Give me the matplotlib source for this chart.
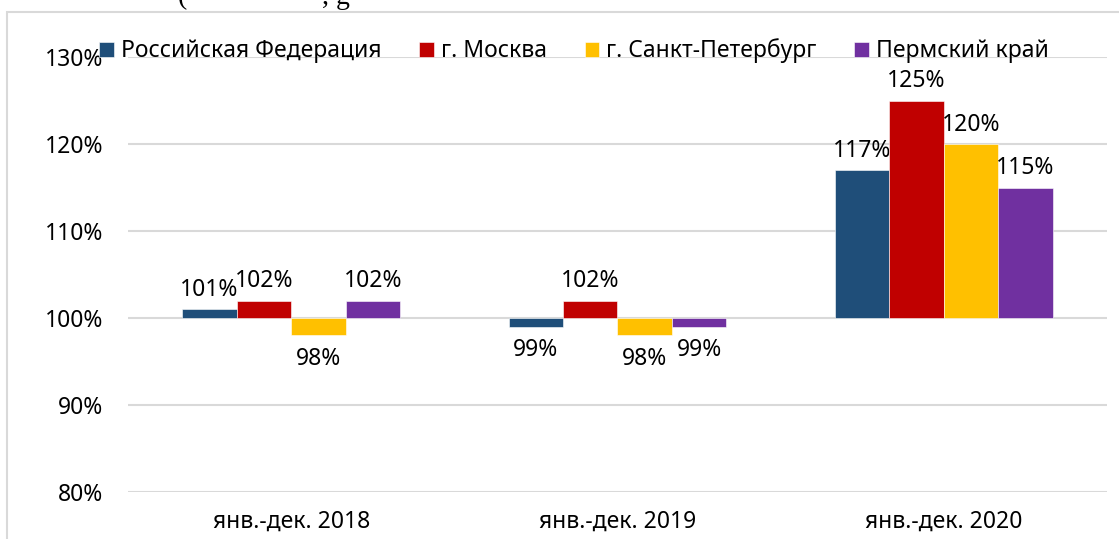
import matplotlib
matplotlib.use("Agg")
import matplotlib.pyplot as plt
import numpy as np
from matplotlib.patches import Rectangle

# data
periods = ["янв.-дек. 2018", "янв.-дек. 2019", "янв.-дек. 2020"]
series_names = ["Российская Федерация", "г. Москва", "г. Санкт-Петербург", "Пермский край"]
rf = [101, 99, 117]
moscow = [102, 102, 125]
spb = [98, 98, 120]
perm = [102, 99, 115]
colors = ["#1F4E79", "#C00000", "#FFC000", "#7030A0"]
yticks = [80, 90, 100, 110, 120, 130]

plt.rcParams['font.family'] = ['Noto Sans', 'DejaVu Sans']
fs = 16.5

W, H = 1119, 539
fig = plt.figure(figsize=(W / 100, H / 100), dpi=100)
ax = fig.add_axes([128 / W, 1 - 492 / H, (1107 - 128) / W, (492 - 57) / H])

# outer chart frame (partly cut off in the reference)
fig.patches.append(Rectangle((7 / W, -0.1), 1.2, 1.1 - 12 / H, transform=fig.transFigure,
                             fill=False, edgecolor="#D9D9D9", linewidth=1.5))

# cut-off text from the page above the chart
fig.text(178 / W, 1 - 4 / H, "(", family="Liberation Serif", fontsize=20, va="baseline")
fig.text(322 / W, 1 - 4 / H, ", g", family="Liberation Serif", fontsize=20, va="baseline")

x = np.arange(len(periods))
w = 0.167
all_series = [rf, moscow, spb, perm]
for i, (vals, name, c) in enumerate(zip(all_series, series_names, colors)):
    xs = x + (i - 1.5) * w
    heights = [v - 100 for v in vals]
    ax.bar(xs, heights, w, bottom=100, color=c, label=name, edgecolor="white", linewidth=0.4, zorder=3)
    for xx, v in zip(xs, vals):
        if v >= 100:
            ax.annotate(f"{v}%", (xx, v), xytext=(0, 9.5), textcoords="offset points",
                        ha="center", va="baseline", fontsize=fs)
        else:
            ax.annotate(f"{v}%", (xx, v), xytext=(0, -21), textcoords="offset points",
                        ha="center", va="baseline", fontsize=fs)

ax.set_xlim(-0.5, 2.5)
ax.set_ylim(80, 130)
ax.set_yticks(yticks)
ax.set_yticklabels([f"{t}%" for t in yticks], fontsize=fs)
ax.set_xticks(x)
ax.set_xticklabels(periods, fontsize=fs)
ax.tick_params(axis="y", length=0, pad=18)
ax.tick_params(axis="x", length=0, pad=13)
ax.grid(axis="y", color="#D9D9D9", linewidth=1.5)
ax.set_axisbelow(True)
for s in ax.spines.values():
    s.set_visible(False)

fig.legend(loc="center", bbox_to_anchor=(574 / W, 1 - 51 / H), ncol=4, frameon=False,
           fontsize=fs, handlelength=0.65, handleheight=0.65, handletextpad=0.3,
           columnspacing=1.65, borderpad=0)

fig.savefig("out.png", dpi=100)
